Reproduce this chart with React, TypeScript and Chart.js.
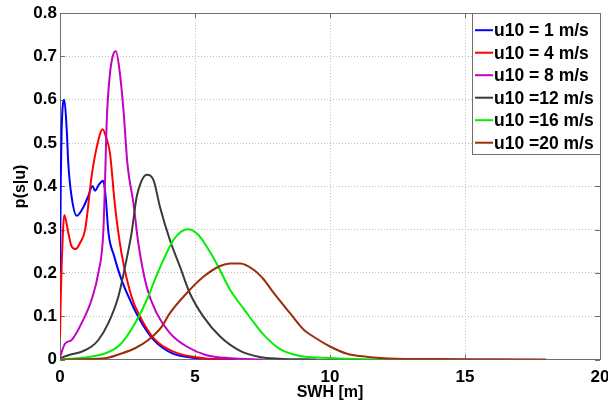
import React, { useEffect, useRef } from 'react';
import { Chart, registerables } from 'chart.js';

Chart.register(...registerables);

const labels = ['u10 = 1 m/s', 'u10 = 4 m/s', 'u10 = 8 m/s', 'u10 =12 m/s', 'u10 =16 m/s', 'u10 =20 m/s'];
const colors = ['#0000ff', '#ff0000', '#c400c4', '#3a3a3a', '#00f000', '#9a2e08'];

const xTickValues = [0, 5, 10, 15, 20];
const yTickValues = [0, 0.1, 0.2, 0.3, 0.4, 0.5, 0.6, 0.7, 0.8];

const u1X = [0, 0.03, 0.06, 0.16, 0.25, 0.31, 0.43, 0.62, 0.85, 1.05, 1.2, 1.3, 1.45, 1.6, 1.69, 1.8, 2.0, 2.28, 2.65, 3.0, 3.4, 3.8, 4.2, 4.9, 5.5, 6.5];
const u1Y = [0.2, 0.42, 0.53, 0.6, 0.53, 0.45, 0.376, 0.332, 0.35, 0.378, 0.401, 0.39, 0.405, 0.413, 0.376, 0.29, 0.24, 0.184, 0.13, 0.087, 0.05, 0.027, 0.013, 0.004, 0.001, 0];

const u4X = [0, 0.03, 0.06, 0.16, 0.31, 0.43, 0.58, 0.74, 0.93, 1.17, 1.36, 1.58, 1.7, 1.85, 2.04, 2.28, 2.65, 3.0, 3.5, 4.2, 5.3, 6.5];
const u4Y = [0.05, 0.15, 0.215, 0.334, 0.292, 0.261, 0.255, 0.269, 0.3, 0.423, 0.49, 0.532, 0.515, 0.477, 0.353, 0.245, 0.145, 0.095, 0.047, 0.018, 0.003, 0];

const u8X = [0, 0.19, 0.43, 0.8, 1.17, 1.42, 1.6, 1.67, 1.73, 1.85, 1.95, 2.07, 2.2, 2.35, 2.5, 2.72, 2.9, 3.21, 3.58, 4.07, 4.69, 5.43, 6.3, 7.5];
const u8Y = [0.006, 0.037, 0.045, 0.084, 0.138, 0.2, 0.29, 0.415, 0.55, 0.66, 0.7, 0.712, 0.67, 0.577, 0.45, 0.361, 0.269, 0.168, 0.107, 0.061, 0.03, 0.01, 0.003, 0];

const u12X = [0, 0.31, 0.8, 1.17, 1.42, 1.79, 2.16, 2.41, 2.65, 2.84, 3.0, 3.21, 3.46, 3.7, 4.07, 4.44, 4.81, 5.31, 5.93, 6.67, 7.4, 8.1, 9.5];
const u12Y = [0.003, 0.01, 0.018, 0.03, 0.045, 0.084, 0.145, 0.215, 0.292, 0.376, 0.41, 0.427, 0.415, 0.353, 0.276, 0.215, 0.153, 0.099, 0.053, 0.02, 0.006, 0.002, 0];

const u16X = [0, 1.05, 1.67, 2.22, 2.78, 3.27, 3.46, 3.83, 4.2, 4.5, 4.75, 5.12, 5.43, 5.8, 6.3, 6.79, 7.04, 7.53, 8.15, 8.9, 9.75, 11, 12];
const u16Y = [0, 0.006, 0.014, 0.034, 0.084, 0.145, 0.176, 0.23, 0.276, 0.296, 0.301, 0.288, 0.261, 0.222, 0.161, 0.118, 0.097, 0.058, 0.024, 0.008, 0.004, 0.001, 0];

const u20X = [0, 1.67, 2.28, 2.78, 3.27, 3.77, 4.07, 4.69, 5.31, 5.93, 6.3, 6.67, 7.16, 7.53, 7.9, 8.52, 9.01, 9.51, 10, 10.6, 11.4, 12.5, 14, 16, 18];
const u20Y = [0, 0.003, 0.014, 0.026, 0.045, 0.076, 0.107, 0.153, 0.191, 0.216, 0.222, 0.222, 0.208, 0.186, 0.155, 0.107, 0.07, 0.048, 0.03, 0.014, 0.006, 0.002, 0.001, 0.0005, 0];

const seriesX = [u1X, u4X, u8X, u12X, u16X, u20X];
const seriesY = [u1Y, u4Y, u8Y, u12Y, u16Y, u20Y];

const FONT = "'Liberation Sans', Arial, Helvetica, sans-serif";

const framePlugin = {
  id: 'frame',
  beforeDatasetsDraw(chart: any) {
    const { ctx, chartArea, scales } = chart;
    const { left, right, top, bottom } = chartArea;
    ctx.save();
    ctx.strokeStyle = '#6e6e6e';
    ctx.lineWidth = 1;
    ctx.strokeRect(Math.round(left) + 0.5, Math.round(top) + 0.5, Math.round(right - left), Math.round(bottom - top));
    ctx.beginPath();
    const tl = 5;
    for (const v of xTickValues) {
      const px = Math.round(scales.x.getPixelForValue(v)) + 0.5;
      ctx.moveTo(px, bottom); ctx.lineTo(px, bottom - tl);
      ctx.moveTo(px, top); ctx.lineTo(px, top + tl);
    }
    for (const v of yTickValues) {
      const py = Math.round(scales.y.getPixelForValue(v)) + 0.5;
      ctx.moveTo(left, py); ctx.lineTo(left + tl, py);
      ctx.moveTo(right, py); ctx.lineTo(right - tl, py);
    }
    ctx.stroke();
    ctx.restore();
  },
  afterDraw(chart: any) {
    const { ctx, chartArea } = chart;
    const boxRight = chartArea.right;
    const boxTop = chartArea.top;
    const boxLeft = boxRight - 128;
    const boxBottom = boxTop + 141;
    ctx.save();
    ctx.fillStyle = '#ffffff';
    ctx.fillRect(boxLeft, boxTop, boxRight - boxLeft, boxBottom - boxTop);
    ctx.strokeStyle = '#6e6e6e';
    ctx.lineWidth = 1;
    ctx.strokeRect(Math.round(boxLeft) + 0.5, Math.round(boxTop) + 0.5, Math.round(boxRight - boxLeft), Math.round(boxBottom - boxTop));
    ctx.font = `bold 17.5px ${FONT}`;
    ctx.textBaseline = 'middle';
    ctx.textAlign = 'left';
    chart.data.datasets.forEach((ds: any, i: number) => {
      const y = boxTop + 17 + i * 22.5;
      ctx.strokeStyle = ds.borderColor;
      ctx.lineWidth = 2;
      ctx.beginPath();
      ctx.moveTo(boxLeft + 3, y);
      ctx.lineTo(boxLeft + 21, y);
      ctx.stroke();
      ctx.fillStyle = '#000';
      ctx.fillText(ds.label, boxLeft + 22, y + 1);
    });
    ctx.restore();
  },
};

export default function App() {
  const ref = useRef<HTMLCanvasElement>(null);
  useEffect(() => {
    document.body.style.margin = '0';
    const datasets = labels.map((label, i) => ({
      label,
      data: seriesX[i].map((x, j) => ({ x, y: seriesY[i][j] })),
      borderColor: colors[i],
      backgroundColor: colors[i],
      borderWidth: 2,
      pointRadius: 0,
      fill: false,
      cubicInterpolationMode: 'monotone' as const,
      order: labels.length - i,
    }));
    const chart = new Chart(ref.current as HTMLCanvasElement, {
      type: 'line',
      data: { datasets },
      plugins: [framePlugin],
      options: {
        animation: false,
        responsive: false,
        layout: { padding: { top: 13, right: 0, left: 0, bottom: 0 } },
        plugins: { legend: { display: false }, tooltip: { enabled: false } },
        scales: {
          x: {
            type: 'linear',
            min: 0,
            max: 20,
            ticks: { stepSize: 5, color: '#000', font: { family: FONT, size: 17, weight: 'bold' }, padding: 8, maxRotation: 0 },
            grid: { color: '#bdbdbd', drawTicks: false },
            border: { display: false, dash: [1, 2] },
            title: { display: true, text: 'SWH [m]', color: '#000', font: { family: FONT, size: 16, weight: 'bold' }, padding: { top: 0, bottom: 3 } },
            afterFit: (s: any) => { s.height = 45.5; s.paddingRight = 8; s.paddingLeft = 0; },
          },
          y: {
            min: 0,
            max: 0.8,
            ticks: {
              stepSize: 0.1,
              color: '#000',
              font: { family: FONT, size: 17, weight: 'bold' },
              padding: 3,
              callback: (v: any) => (Number(v) === 0 ? '0' : Number(v).toFixed(1)),
            },
            grid: { color: '#bdbdbd', drawTicks: false },
            border: { display: false, dash: [1, 2] },
            title: { display: true, text: 'p(s|u)', color: '#000', font: { family: FONT, size: 16, weight: 'bold' }, padding: { top: 11, bottom: 0 } },
            afterFit: (s: any) => { s.width = 60; },
          },
        },
      } as any,
    });
    return () => chart.destroy();
  }, []);
  return (
    <div style={{ width: 608, height: 405, position: 'relative', background: '#fff' }}>
      <canvas ref={ref} width={608} height={405} />
    </div>
  );
}
